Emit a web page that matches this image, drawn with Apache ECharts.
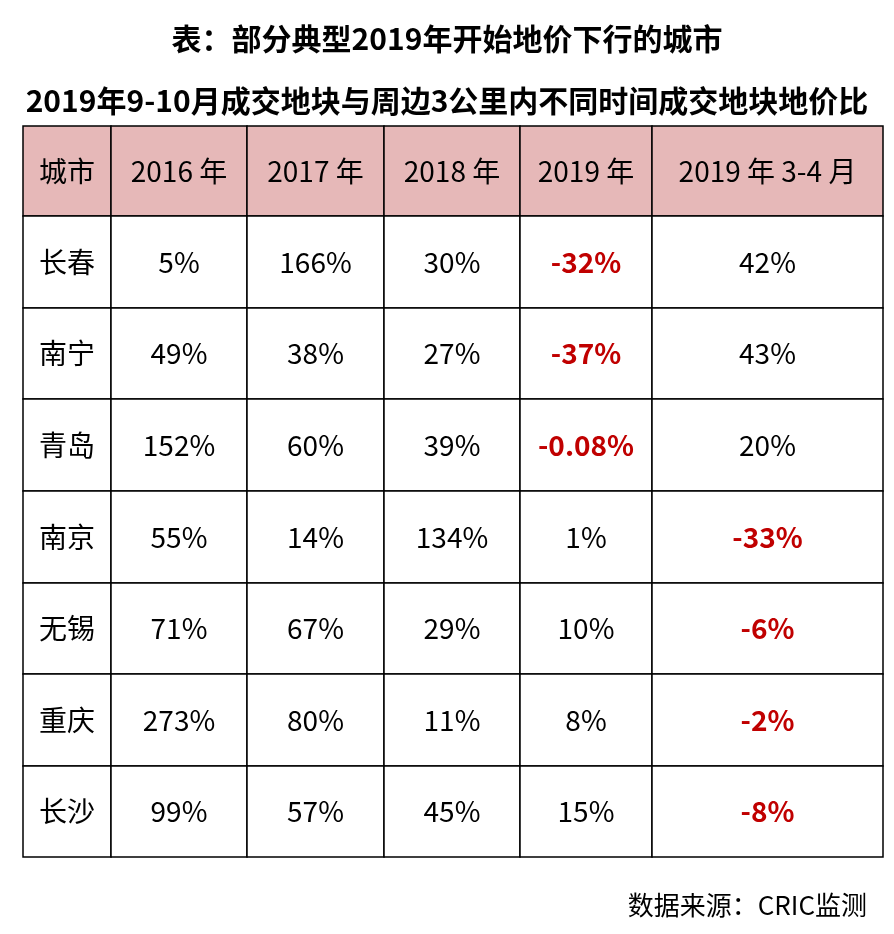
<!DOCTYPE html>
<html>
<head>
<meta charset="utf-8">
<script src="https://cdn.jsdelivr.net/npm/echarts@6/dist/echarts.min.js"></script>
<style>html,body{margin:0;padding:0;background:#fff}#main{width:894px;height:934px}</style>
</head>
<body>
<div id="main"></div>
<script>
// 表格数据
const headers = ['城市', '2016 年', '2017 年', '2018 年', '2019 年', '2019 年 3-4 月'];
const cities = ['长春', '南宁', '青岛', '南京', '无锡', '重庆', '长沙'];
const y2016 = ['5%', '49%', '152%', '55%', '71%', '273%', '99%'];
const y2017 = ['166%', '38%', '60%', '14%', '67%', '80%', '57%'];
const y2018 = ['30%', '27%', '39%', '134%', '29%', '11%', '45%'];
const y2019 = ['-32%', '-37%', '-0.08%', '1%', '10%', '8%', '15%'];
const m34 = ['42%', '43%', '20%', '-33%', '-6%', '-2%', '-8%'];

// 列边界、行边界（像素布局）
const colEdges = [0, 88, 224, 361, 497, 629, 860];
const rowEdges = [0, 90, 182, 273, 365, 457, 548, 640, 731];
const font = '"Noto Sans CJK SC", sans-serif';

const columns = [cities, y2016, y2017, y2018, y2019, m34];
const cells = [];
headers.forEach((h, c) => cells.push([c, 0, h]));
cities.forEach((_, r) => columns.forEach((col, c) => cells.push([c, r + 1, col[r]])));

const myChart = echarts.init(document.getElementById('main'));
const option = {
    animation: false,
    title: [
        { text: '表：部分典型2019年开始地价下行的城市', left: 'center', top: 19,
          textStyle: { fontFamily: font, fontSize: 30, fontWeight: 'bold', color: '#000' } },
        { text: '2019年9-10月成交地块与周边3公里内不同时间成交地块地价比', left: 'center', top: 81,
          textStyle: { fontFamily: font, fontSize: 30, fontWeight: 'bold', color: '#000' } },
        { text: '数据来源：CRIC监测', right: 22, top: 887,
          textStyle: { fontFamily: font, fontSize: 26, fontWeight: 'normal', color: '#000' } }
    ],
    grid: { left: 23, top: 126, width: 860, height: 731 },
    xAxis: { type: 'value', min: 0, max: 860, show: false },
    yAxis: { type: 'value', min: 0, max: 731, inverse: true, show: false },
    series: [{
        type: 'custom',
        data: cells,
        renderItem: function (params, api) {
            const c = api.value(0), r = api.value(1);
            const text = cells[params.dataIndex][2];
            const p0 = api.coord([colEdges[c], rowEdges[r]]);
            const p1 = api.coord([colEdges[c + 1], rowEdges[r + 1]]);
            const neg = r > 0 && text.charAt(0) === '-';
            return {
                type: 'rect',
                shape: { x: p0[0], y: p0[1], width: p1[0] - p0[0], height: p1[1] - p0[1] },
                style: { fill: r === 0 ? '#e6b8b8' : '#fff', stroke: '#000', lineWidth: 1.5 },
                textContent: {
                    style: {
                        text: text, fontFamily: font, fontSize: 28,
                        fontWeight: neg ? 'bold' : 'normal',
                        fill: neg ? '#c00000' : '#000'
                    }
                },
                textConfig: { position: 'inside' }
            };
        }
    }]
};
option && myChart.setOption(option);
</script>
</body>
</html>
